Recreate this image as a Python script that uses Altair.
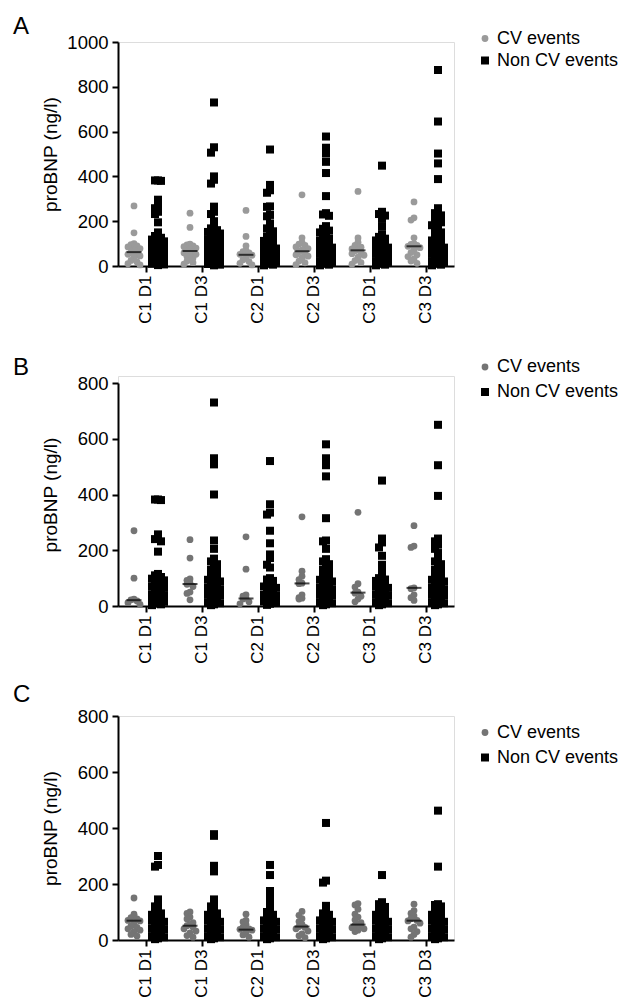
import altair as alt
import pandas as pd

categories = ["C1 D1", "C1 D3", "C2 D1", "C2 D3", "C3 D1", "C3 D3"]
groups = ["CV events", "Non CV events"]
letters = ["A", "B", "C"]

# Panel A
A_cv = [
    [268, 148, 100, 95, 90, 85, 78, 72, 66, 62, 58, 52, 45, 40, 33, 25, 18, 10, 5],
    [236, 172, 98, 94, 90, 86, 80, 75, 70, 67, 62, 58, 52, 47, 42, 36, 30, 22, 15, 8],
    [248, 132, 90, 70, 64, 58, 52, 48, 42, 35, 28, 20, 12, 5],
    [318, 126, 105, 98, 92, 85, 78, 72, 68, 64, 58, 50, 44, 38, 30, 22, 14, 6],
    [333, 125, 106, 92, 84, 76, 71, 68, 62, 55, 48, 40, 32, 24, 15, 8],
    [286, 215, 205, 126, 100, 96, 92, 88, 82, 75, 68, 60, 50, 42, 32, 22, 12],
]
A_noncv = [
    [382, 382, 380, 296, 266, 258, 242, 232, 195, 150, 142, 134, 126, 118, 110, 104, 98, 92, 86, 80, 76, 72, 68, 64, 60, 56, 52, 48, 45, 42, 38, 35, 32, 28, 25, 22, 19, 16, 13, 10, 7, 4],
    [730, 530, 506, 400, 385, 368, 265, 242, 232, 200, 175, 168, 160, 152, 145, 138, 132, 125, 118, 112, 106, 100, 95, 90, 86, 82, 78, 74, 70, 66, 62, 58, 55, 52, 48, 45, 42, 38, 35, 32, 28, 25, 22, 18, 15, 12, 9, 6, 3],
    [520, 362, 338, 327, 266, 264, 228, 222, 190, 178, 168, 155, 142, 132, 122, 112, 104, 96, 90, 84, 78, 72, 66, 60, 55, 50, 45, 40, 35, 30, 26, 22, 18, 14, 10, 6, 3],
    [578, 528, 502, 465, 415, 312, 236, 230, 224, 178, 166, 158, 150, 140, 130, 122, 114, 106, 100, 94, 88, 82, 76, 70, 65, 60, 55, 50, 46, 42, 38, 34, 30, 26, 22, 18, 14, 10, 6, 3],
    [448, 242, 232, 225, 210, 175, 140, 130, 122, 114, 106, 100, 94, 88, 82, 76, 70, 65, 60, 55, 50, 45, 40, 35, 30, 26, 22, 18, 14, 10, 6, 3],
    [875, 645, 502, 458, 388, 258, 245, 236, 226, 215, 205, 195, 182, 170, 160, 150, 140, 130, 122, 114, 106, 100, 94, 88, 82, 76, 70, 65, 60, 55, 50, 45, 40, 35, 30, 26, 22, 18, 14, 10, 6, 3],
]
A_cv_median = [62, 67, 50, 66, 70, 88]

# Panel B
B_cv = [
    [270, 100, 25, 22, 18, 12, 6],
    [238, 172, 97, 92, 82, 78, 70, 50, 45, 22],
    [248, 132, 40, 35, 28, 25, 15, 8],
    [320, 125, 107, 95, 82, 80, 40, 30, 28, 25],
    [336, 80, 68, 50, 46, 35, 25, 15],
    [288, 215, 210, 65, 62, 40, 30, 20],
]
B_noncv = [
    [382, 382, 380, 257, 240, 232, 195, 115, 110, 104, 98, 92, 86, 80, 75, 70, 65, 60, 55, 50, 46, 42, 38, 34, 30, 27, 24, 21, 18, 15, 12, 9, 6, 3],
    [730, 530, 508, 400, 235, 205, 170, 160, 150, 140, 130, 122, 114, 106, 100, 94, 88, 82, 76, 70, 65, 60, 55, 50, 46, 42, 38, 34, 30, 26, 22, 18, 14, 10, 6, 3],
    [520, 365, 335, 328, 270, 225, 185, 172, 148, 138, 100, 95, 90, 85, 80, 75, 70, 65, 60, 55, 50, 45, 40, 36, 32, 28, 24, 20, 16, 12, 8, 4],
    [580, 530, 505, 465, 315, 235, 232, 205, 168, 160, 150, 140, 130, 122, 114, 106, 100, 94, 88, 82, 76, 70, 65, 60, 55, 50, 46, 42, 38, 34, 30, 26, 22, 18, 14, 10, 6, 3],
    [450, 242, 228, 210, 180, 148, 125, 110, 100, 95, 90, 85, 80, 75, 70, 65, 60, 55, 50, 46, 42, 38, 34, 30, 26, 22, 18, 14, 10, 6, 3],
    [650, 505, 395, 242, 232, 220, 205, 190, 165, 160, 150, 140, 130, 122, 114, 106, 100, 94, 88, 82, 76, 70, 65, 60, 55, 50, 46, 42, 38, 34, 30, 26, 22, 18, 14, 10, 6, 3],
]
B_cv_median = [21, 79, 27, 81, 48, 65]

# Panel C
C_cv = [
    [150, 92, 86, 80, 75, 70, 68, 62, 56, 50, 45, 40, 35, 30, 25, 20, 14],
    [100, 95, 82, 75, 62, 56, 51, 46, 40, 32, 25, 16, 10],
    [92, 70, 65, 56, 46, 40, 38, 35, 30, 25, 18, 10],
    [102, 88, 76, 66, 56, 48, 45, 40, 32, 22, 15, 8],
    [130, 125, 110, 92, 82, 72, 62, 56, 52, 48, 44, 40, 35, 30],
    [128, 105, 95, 86, 76, 70, 68, 60, 46, 40, 30, 20, 10],
]
C_noncv = [
    [300, 268, 262, 145, 125, 120, 115, 100, 95, 90, 85, 80, 75, 70, 65, 60, 55, 50, 46, 42, 38, 34, 30, 26, 22, 18, 14, 10, 6, 3],
    [378, 372, 265, 245, 145, 130, 120, 110, 100, 95, 90, 85, 80, 75, 70, 65, 60, 55, 50, 46, 42, 38, 34, 30, 26, 22, 18, 14, 10, 6, 3],
    [268, 232, 175, 152, 128, 115, 100, 90, 85, 80, 75, 70, 65, 60, 55, 50, 46, 42, 38, 34, 30, 26, 22, 18, 14, 10, 6, 3],
    [418, 212, 205, 122, 100, 95, 90, 85, 80, 75, 70, 65, 60, 55, 50, 46, 42, 38, 34, 30, 26, 22, 18, 14, 10, 6, 3],
    [232, 135, 128, 118, 112, 100, 95, 90, 85, 80, 75, 70, 65, 60, 55, 50, 46, 42, 38, 34, 30, 26, 22, 18, 14, 10, 6, 3],
    [462, 262, 128, 125, 120, 110, 100, 95, 90, 85, 80, 75, 70, 65, 60, 55, 50, 46, 42, 38, 34, 30, 26, 22, 18, 14, 10, 6, 3],
]
C_cv_median = [69, 51, 37, 48, 55, 69]

FONT = "Liberation Sans"


def build_points(cv, noncv):
    rows = []
    for cat, vals in zip(categories, cv):
        rows += [{"cat": cat, "group": groups[0], "value": v} for v in vals]
    for cat, vals in zip(categories, noncv):
        rows += [{"cat": cat, "group": groups[1], "value": v} for v in vals]
    return pd.DataFrame(rows)


def panel(letter, cv, noncv, medians, ymax, cv_color, height, top_gap,
          letter_y, legend_y, row_pad, bin_w):
    pts = build_points(cv, noncv)
    med = pd.DataFrame({"cat": categories, "median": medians})
    lab = pd.DataFrame({"letter": [letter]})

    x_enc = alt.X(
        "cat:N", sort=categories,
        scale=alt.Scale(domain=categories, paddingInner=0, paddingOuter=0),
        axis=alt.Axis(title=None, labelAngle=270, labelFontSize=17, labelFont=FONT,
                      labelColor="black", labelPadding=3, tickSize=6, tickWidth=2,
                      domainWidth=2, domainColor="black", tickColor="black", grid=False),
    )
    y_scale = alt.Scale(domain=[0, ymax], range=[height, top_gap], nice=False, zero=True)
    y_axis = alt.Axis(
        title="proBNP (ng/l)", values=list(range(0, ymax + 1, 200)), format="d",
        labelFontSize=18.5, labelFont=FONT, labelColor="black", labelPadding=4,
        tickSize=6, tickWidth=2, domainWidth=2, domainColor="black", tickColor="black",
        grid=False, titleFont=FONT, titleFontSize=19, titleFontWeight="normal",
        titleColor="black", titleX=-68, titleY=(height + top_gap) / 2, titleAngle=270,
        titleAlign="center", titleBaseline="middle",
    )
    off_scale = alt.Scale(domain=[-28, 28], nice=False, zero=False)
    legend = alt.Legend(
        title=None, orient="none", legendX=358, legendY=legend_y, padding=0,
        rowPadding=row_pad, labelFontSize=18, labelFont=FONT, labelColor="black",
        symbolSize=40, symbolStrokeWidth=0, labelOffset=3,
    )

    points = alt.Chart(pts).transform_calculate(
        ybin=f"floor(datum.value / {bin_w})"
    ).transform_window(
        rank="row_number()", groupby=["cat", "group", "ybin"],
        sort=[alt.SortField("value", order="descending")],
    ).transform_calculate(
        k="(datum.rank - 1) % 5"
    ).transform_calculate(
        off="(datum.group == 'CV events' ? -12 : 12) + (datum.k % 2 == 1 ? -1 : 1) * ceil(datum.k / 2) * 3"
    ).mark_point(filled=True, opacity=1, strokeWidth=0).encode(
        x=x_enc,
        xOffset=alt.XOffset("off:Q", scale=off_scale),
        y=alt.Y("value:Q", scale=y_scale, axis=y_axis),
        color=alt.Color("group:N", scale=alt.Scale(domain=groups, range=[cv_color, "black"]), legend=legend),
        shape=alt.Shape("group:N", scale=alt.Scale(domain=groups, range=["circle", "square"]), legend=legend),
        size=alt.Size("group:N", scale=alt.Scale(domain=groups, range=[46, 64]), legend=None),
    )

    medians_layer = alt.Chart(med).transform_calculate(off="-12").mark_tick(
        color="black", thickness=2, size=15
    ).encode(
        x=alt.X("cat:N", sort=categories),
        xOffset=alt.XOffset("off:Q"),
        y=alt.Y("median:Q"),
    )

    letter_layer = alt.Chart(lab).mark_text(
        align="left", baseline="alphabetic", fontSize=24, font=FONT, color="black"
    ).encode(
        text="letter:N", x=alt.value(-105), y=alt.value(letter_y)
    )

    return alt.layer(points, medians_layer, letter_layer).properties(width=336, height=height)


pA = panel("A", A_cv, A_noncv, A_cv_median, 1000, "#9a9a9a", 224, 0, -8, -12.5, 4, 36)
pB = panel("B", B_cv, B_noncv, B_cv_median, 800, "#747474", 230, 7, -1.5, -18, 7, 29)
pC = panel("C", C_cv, C_noncv, C_cv_median, 800, "#747474", 224, 0, -14, 7.5, 7, 29)

chart = alt.vconcat(pA, pB, pC, spacing=110, bounds="flush").resolve_scale(
    color="independent", shape="independent", size="independent",
    x="independent", y="independent",
).resolve_legend(
    color="independent", shape="independent"
).properties(
    padding={"left": 4, "top": 6, "right": 0, "bottom": 0}
).configure_view(stroke=None).configure(font=FONT)

chart.save("out.html", embed_options={"renderer": "svg", "actions": False})
